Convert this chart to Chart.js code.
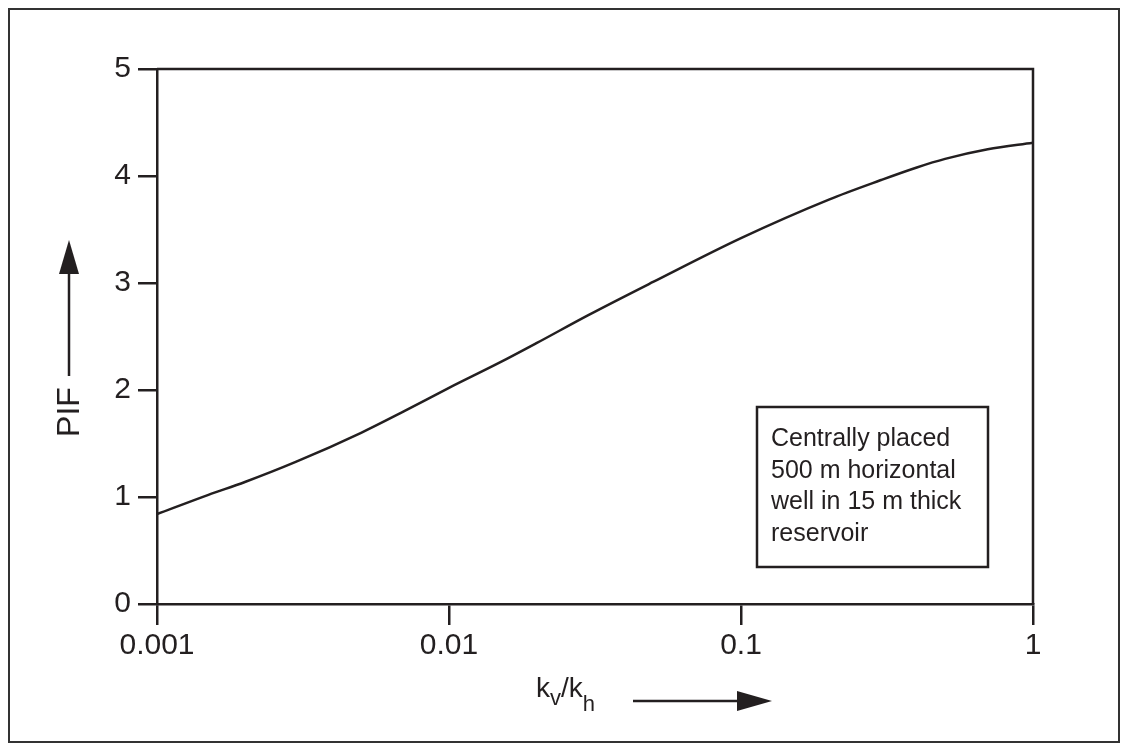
<!DOCTYPE html>
<html>
<head>
<meta charset="utf-8">
<script src="https://cdn.jsdelivr.net/npm/chart.js@4.4.1/dist/chart.umd.min.js"></script>
<style>
    html, body { margin: 0; padding: 0; background: #fff; }
    #wrap { position: relative; width: 1126px; height: 747px; }
    #frame {
        position: absolute; left: 8px; top: 8px; width: 1112px; height: 735px;
        border: 2px solid #333; box-sizing: border-box; pointer-events: none;
    }
    canvas { position: absolute; left: 0; top: 0; }
</style>
</head>
<body>
<div id="wrap">
    <canvas id="grafik" width="1126" height="747"></canvas>
    <div id="frame"></div>
</div>
<script>
// Veriler (okunan değerler)
const kvkh = [0.001, 0.0015, 0.002, 0.003, 0.005, 0.007, 0.01, 0.015, 0.02, 0.03, 0.05, 0.1, 0.2, 0.3, 0.4, 0.5, 0.7, 1];
const pif  = [0.84, 1.02, 1.14, 1.33, 1.60, 1.80, 2.02, 2.26, 2.44, 2.70, 3.01, 3.42, 3.78, 3.96, 4.08, 4.16, 4.25, 4.31];
const xTicks = [0.001, 0.01, 0.1, 1];
const xTickLabels = ['0.001', '0.01', '0.1', '1'];
const yTicks = [0, 1, 2, 3, 4, 5];
const notLines = ['Centrally placed', '500 m horizontal', 'well in 15 m thick', 'reservoir'];

const ink = '#231f20';
const font = 'Liberation Sans, Arial, Helvetica, sans-serif';

// Çerçeve, not kutusu ve eksen başlıkları
const suslemeler = {
    id: 'suslemeler',
    afterDraw(chart) {
        const ctx = chart.ctx;
        const a = chart.chartArea;
        ctx.save();
        ctx.strokeStyle = ink;
        ctx.fillStyle = ink;
        ctx.lineWidth = 2.5;

        // üst ve sağ kenar
        ctx.beginPath();
        ctx.moveTo(a.left, a.top);
        ctx.lineTo(a.right, a.top);
        ctx.lineTo(a.right, a.bottom);
        ctx.stroke();

        // not kutusu
        ctx.strokeRect(757, 407, 231, 160);
        ctx.font = '25px ' + font;
        ctx.textBaseline = 'alphabetic';
        notLines.forEach(function(t, i) {
            ctx.fillText(t, 771, 446 + i * 31.7);
        });

        // y başlığı: PIF + ok
        ctx.save();
        ctx.translate(79, 412);
        ctx.rotate(-Math.PI / 2);
        ctx.font = '32px ' + font;
        ctx.textAlign = 'center';
        ctx.fillText('PIF', 0, 0);
        ctx.restore();
        ctx.beginPath();
        ctx.moveTo(69, 376);
        ctx.lineTo(69, 270);
        ctx.stroke();
        ctx.beginPath();
        ctx.moveTo(69, 240);
        ctx.lineTo(59, 274);
        ctx.lineTo(79, 274);
        ctx.closePath();
        ctx.fill();

        // x başlığı: kv/kh + ok
        ctx.textAlign = 'left';
        let x = 536;
        ctx.font = '28px ' + font;
        ctx.fillText('k', x, 697); x += ctx.measureText('k').width;
        ctx.font = '22px ' + font;
        ctx.fillText('v', x, 705); x += ctx.measureText('v').width;
        ctx.font = '28px ' + font;
        ctx.fillText('/', x, 697); x += ctx.measureText('/').width;
        ctx.fillText('k', x, 697); x += ctx.measureText('k').width;
        ctx.font = '22px ' + font;
        ctx.fillText('h', x, 711);

        ctx.beginPath();
        ctx.moveTo(633, 701);
        ctx.lineTo(740, 701);
        ctx.stroke();
        ctx.beginPath();
        ctx.moveTo(772, 701);
        ctx.lineTo(737, 691);
        ctx.lineTo(737, 711);
        ctx.closePath();
        ctx.fill();
        ctx.restore();
    }
};

const ctx = document.getElementById('grafik').getContext('2d');
new Chart(ctx, {
    type: 'line',
    data: {
        datasets: [{
            data: kvkh.map(function(v, i) { return { x: v, y: pif[i] }; }),
            borderColor: ink,
            borderWidth: 2.5,
            pointRadius: 0,
            fill: false,
            cubicInterpolationMode: 'monotone'
        }]
    },
    options: {
        responsive: false,
        animation: false,
        devicePixelRatio: 1,
        layout: { padding: { left: 0, top: 69, right: 93, bottom: 0 } },
        plugins: { legend: { display: false }, tooltip: { enabled: false } },
        scales: {
            x: {
                type: 'logarithmic',
                min: 0.001,
                max: 1,
                afterBuildTicks: function(scale) {
                    scale.ticks = xTicks.map(function(v) { return { value: v }; });
                },
                afterFit: function(scale) { scale.height = 143; },
                grid: {
                    drawOnChartArea: false,
                    drawTicks: true,
                    tickLength: 21,
                    color: ink,
                    lineWidth: 2.5
                },
                border: { display: true, color: ink, width: 2.5 },
                ticks: {
                    color: ink,
                    padding: 3,
                    maxRotation: 0,
                    font: { family: font, size: 30 },
                    callback: function(value) {
                        const i = xTicks.indexOf(value);
                        return i >= 0 ? xTickLabels[i] : '';
                    }
                }
            },
            y: {
                min: 0,
                max: 5,
                afterBuildTicks: function(scale) {
                    scale.ticks = yTicks.map(function(v) { return { value: v }; });
                },
                afterFit: function(scale) { scale.width = 157; },
                grid: {
                    drawOnChartArea: false,
                    drawTicks: true,
                    tickLength: 19,
                    color: ink,
                    lineWidth: 2.5
                },
                border: { display: true, color: ink, width: 2.5 },
                ticks: {
                    color: ink,
                    padding: 7,
                    font: { family: font, size: 30 }
                }
            }
        }
    },
    plugins: [suslemeler]
});
</script>
</body>
</html>
